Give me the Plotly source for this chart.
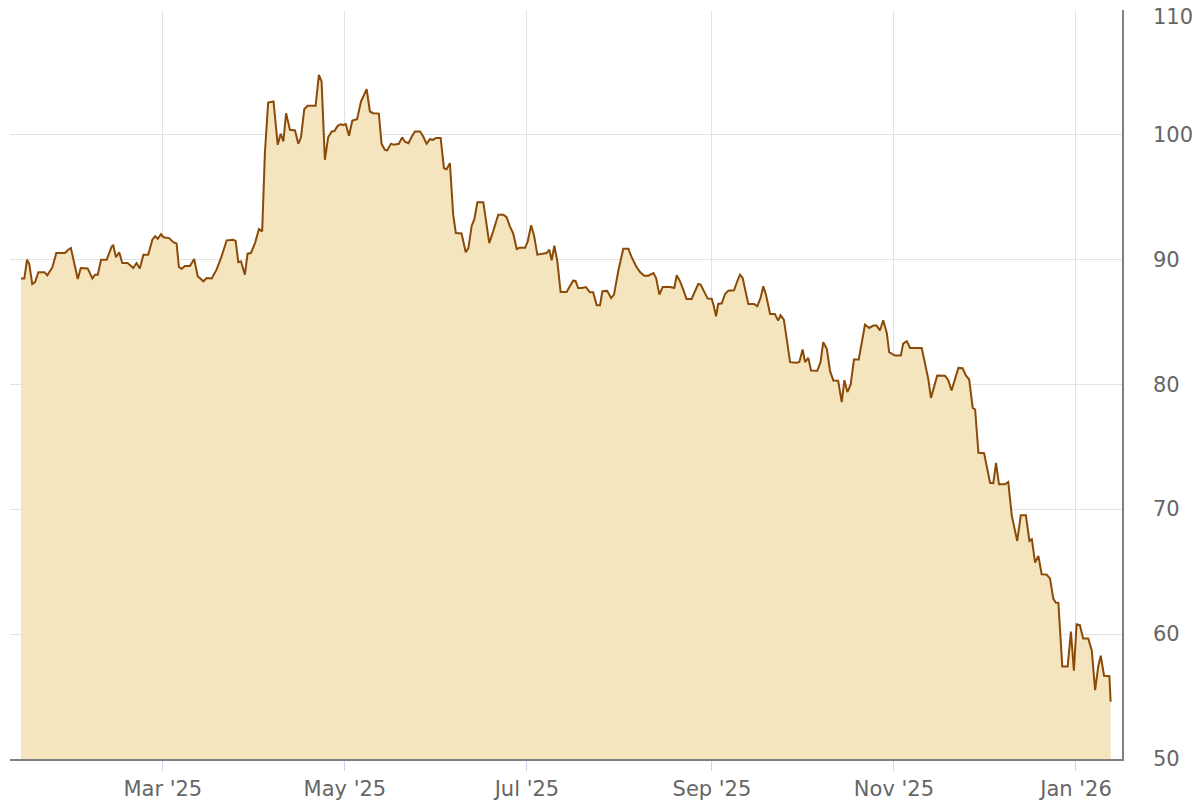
import pandas as pd
import plotly.graph_objects as go

# Day offsets (days since 2025-01-01) and closing values
days_since_2025_01_01 = [
    11.5, 12.6, 13.5, 14.25, 15.25, 16.2, 17.3, 19.3, 20.3, 22.0,
    23.3, 26.2, 27.3, 28.2, 30.5, 31.5, 33.8, 35.4, 36.3, 37.2,
    38.3, 40.2, 41.9, 42.4, 43.3, 44.4, 45.4, 47.2, 49.1, 50.2,
    51.3, 52.5, 54.1, 55.5, 56.4, 57.3, 58.4, 59.2, 61.1, 62.5,
    63.6, 64.4, 65.3, 66.4, 68.1, 69.5, 70.7, 71.8, 72.6, 73.7,
    75.4, 77.0, 78.7, 80.4, 82.6, 83.4, 84.3, 85.2, 86.5, 87.4,
    88.5, 89.9, 91.2, 92.3, 93.2, 94.3, 96.1, 97.5, 98.5, 99.4,
    100.3, 101.6, 103.3, 104.4, 105.3, 106.4, 107.5, 110.2, 111.3, 112.2,
    113.3, 114.4, 115.6, 116.5, 117.6, 118.6, 119.5, 120.3, 121.4, 122.5,
    124.1, 125.4, 127.3, 128.4, 129.5, 131.4, 132.3, 133.4, 134.2, 135.4,
    136.5, 138.1, 139.2, 140.1, 141.3, 142.4, 143.5, 145.2, 146.3, 147.4,
    148.5, 149.6, 150.5, 152.1, 153.2, 154.1, 155.2, 156.3, 157.2, 159.1,
    160.5, 161.4, 162.5, 163.4, 164.4, 166.4, 167.5, 168.4, 169.7, 171.4,
    173.1, 174.2, 175.3, 176.4, 177.6, 178.5, 180.4, 181.3, 182.4, 183.4,
    184.5, 186.5, 187.6, 188.5, 189.3, 190.2, 191.2, 192.3, 194.3, 195.4,
    196.5, 197.3, 198.2, 199.4, 200.8, 202.1, 203.2, 204.4, 205.5, 206.3,
    207.9, 209.2, 210.2, 211.6, 213.3, 215.0, 216.1, 217.6, 218.9, 220.3,
    221.7, 223.4, 224.3, 225.4, 226.5, 229.0, 230.4, 231.2, 232.3, 233.4,
    234.5, 236.2, 237.3, 238.4, 239.2, 240.4, 241.6, 242.9, 243.5, 244.4,
    245.1, 246.3, 247.4, 248.5, 250.4, 251.5, 252.4, 253.3, 255.2, 257.1,
    258.2, 259.3, 260.2, 261.1, 262.5, 264.1, 265.2, 266.0, 267.1, 268.1,
    269.2, 271.4, 272.3, 273.4, 274.2, 275.3, 276.2, 278.3, 279.4, 280.3,
    281.5, 282.6, 283.7, 285.3, 286.5, 287.4, 288.4, 289.5, 290.6, 292.2,
    293.2, 294.3, 295.7, 297.1, 298.2, 299.3, 300.4, 301.6, 302.4, 304.3,
    306.3, 307.1, 308.3, 309.4, 313.3, 314.7, 315.5, 316.4, 317.8, 318.5,
    321.1, 322.2, 323.3, 324.2, 325.6, 327.0, 328.1, 329.2, 330.4, 331.2,
    332.3, 334.2, 335.3, 336.2, 337.3, 338.2, 339.2, 341.2, 342.3, 343.5,
    345.3, 346.5, 348.2, 349.4, 350.2, 351.3, 352.4, 353.5, 355.2, 356.3,
    357.4, 358.2, 359.1, 360.4, 362.2, 363.3, 364.3, 365.2, 366.3, 367.4,
    369.1, 370.3, 371.4, 372.5, 373.3, 374.4, 376.2, 376.6,
]

values = [
    88.5, 88.5, 90.0, 89.65, 88.05, 88.2, 89.0, 89.0, 88.75, 89.4,
    90.53, 90.53, 90.8, 90.93, 88.45, 89.33, 89.3, 88.5, 88.8, 88.8,
    90.0, 90.0, 91.07, 91.15, 90.2, 90.6, 89.73, 89.73, 89.33, 89.73,
    89.3, 90.4, 90.4, 91.6, 91.87, 91.67, 92.05, 91.8, 91.73, 91.4,
    91.3, 89.4, 89.27, 89.5, 89.5, 90.05, 88.67, 88.4, 88.27, 88.53,
    88.5, 89.2, 90.27, 91.55, 91.6, 91.5, 89.8, 89.85, 88.8, 90.48,
    90.53, 91.33, 92.45, 92.27, 98.53, 102.59, 102.67, 99.2, 100.08, 99.47,
    101.73, 100.4, 100.35, 99.28, 99.8, 102.05, 102.32, 102.32, 104.8, 104.27,
    98.0, 99.8, 100.27, 100.3, 100.72, 100.85, 100.8, 100.87, 99.92, 101.15,
    101.25, 102.67, 103.65, 101.87, 101.73, 101.7, 99.28, 98.8, 98.75, 99.28,
    99.2, 99.28, 99.8, 99.45, 99.33, 99.85, 100.27, 100.27, 99.85, 99.28,
    99.65, 99.6, 99.75, 99.75, 97.33, 97.25, 97.73, 93.6, 92.13, 92.1,
    90.6, 90.93, 92.72, 93.25, 94.6, 94.6, 92.67, 91.33, 92.27, 93.6,
    93.6, 93.4, 92.67, 92.1, 90.85, 90.95, 90.95, 91.47, 92.75, 91.92,
    90.4, 90.45, 90.53, 90.8, 89.95, 91.12, 89.87, 87.41, 87.41, 87.87,
    88.32, 88.3, 87.73, 87.73, 87.8, 87.39, 87.39, 86.35, 86.35, 87.47,
    87.5, 86.93, 87.2, 89.07, 90.88, 90.88, 90.2, 89.47, 89.01, 88.72,
    88.72, 88.93, 88.53, 87.2, 87.81, 87.81, 87.73, 88.75, 88.27, 87.6,
    86.85, 86.85, 87.52, 88.05, 88.0, 87.41, 86.88, 86.87, 86.4, 85.47,
    86.45, 86.5, 87.25, 87.52, 87.55, 88.27, 88.8, 88.53, 86.45, 86.45,
    86.27, 86.93, 87.87, 87.2, 85.65, 85.65, 85.12, 85.55, 85.2, 83.6,
    81.79, 81.75, 81.8, 82.8, 81.8, 82.13, 81.12, 81.1, 81.8, 83.39,
    82.85, 81.07, 80.32, 80.3, 78.59, 80.35, 79.39, 80.0, 82.0, 82.0,
    83.2, 84.8, 84.53, 84.72, 84.72, 84.32, 85.15, 84.13, 82.59, 82.32,
    82.32, 83.28, 83.47, 82.93, 82.93, 81.47, 80.45, 78.93, 80.13, 80.72,
    80.7, 80.35, 79.52, 80.27, 81.33, 81.3, 80.72, 80.4, 78.13, 78.0,
    74.53, 74.5, 73.2, 72.13, 72.1, 73.73, 72.0, 72.0, 72.19, 69.47,
    67.47, 69.52, 69.52, 67.47, 67.6, 65.73, 66.27, 64.8, 64.77, 64.45,
    62.85, 62.53, 62.5, 57.41, 57.41, 60.2, 57.07, 60.8, 60.73, 59.65,
    59.65, 58.67, 55.52, 57.47, 58.27, 56.67, 56.63, 54.59,
]

x_tick_dates = ["2025-03-01", "2025-05-01", "2025-07-01", "2025-09-01", "2025-11-01", "2026-01-01"]
x_tick_labels = ["Mar '25", "May '25", "Jul '25", "Sep '25", "Nov '25", "Jan '26"]
y_ticks = [50, 60, 70, 80, 90, 100, 110]

base = pd.Timestamp("2025-01-01")
dates = base + pd.to_timedelta(days_since_2025_01_01, unit="D")

fig = go.Figure()
fig.add_trace(go.Scatter(
    x=dates, y=values, mode="lines",
    line=dict(color="#8a4a08", width=2),
    fill="tozeroy", fillcolor="#f5e5bf",
    hoverinfo="x+y", showlegend=False,
))

font = dict(family="DejaVu Sans, Verdana, sans-serif", size=21, color="#666666")

# Right-side value labels as annotations, tied to the y axis values
for v in y_ticks:
    fig.add_annotation(
        x=1, xref="paper", xanchor="left", xshift=29,
        y=v, yref="y", yanchor="middle",
        yshift=-7 if v == max(y_ticks) else 0,
        text=str(v), showarrow=False, font=font,
    )

# The page body adds an 8px offset, so the figure is sized to fit the window.
fig.update_layout(
    width=1192, height=792,
    margin=dict(l=2, r=78, t=2, b=41, autoexpand=False),
    paper_bgcolor="white", plot_bgcolor="white",
    font=font,
    xaxis=dict(
        type="date",
        range=["2025-01-08 19:00", "2026-01-16 10:00"],
        tickvals=x_tick_dates, ticktext=x_tick_labels,
        showgrid=True, gridcolor="#e3e3e3", gridwidth=1,
        showline=True, linecolor="#808080", linewidth=2,
        ticks="outside", ticklen=10, tickcolor="#ccd6eb", tickwidth=1,
        tickfont=font, zeroline=False, automargin=False,
        ticklabeloverflow="allow",
    ),
    yaxis=dict(
        side="right",
        range=[50, 110],
        tickvals=y_ticks,
        showgrid=True, gridcolor="#e3e3e3", gridwidth=1,
        showline=True, linecolor="#808080", linewidth=2,
        ticks="", showticklabels=False,
        zeroline=False, automargin=False,
    ),
)

fig.write_html("out.html")
